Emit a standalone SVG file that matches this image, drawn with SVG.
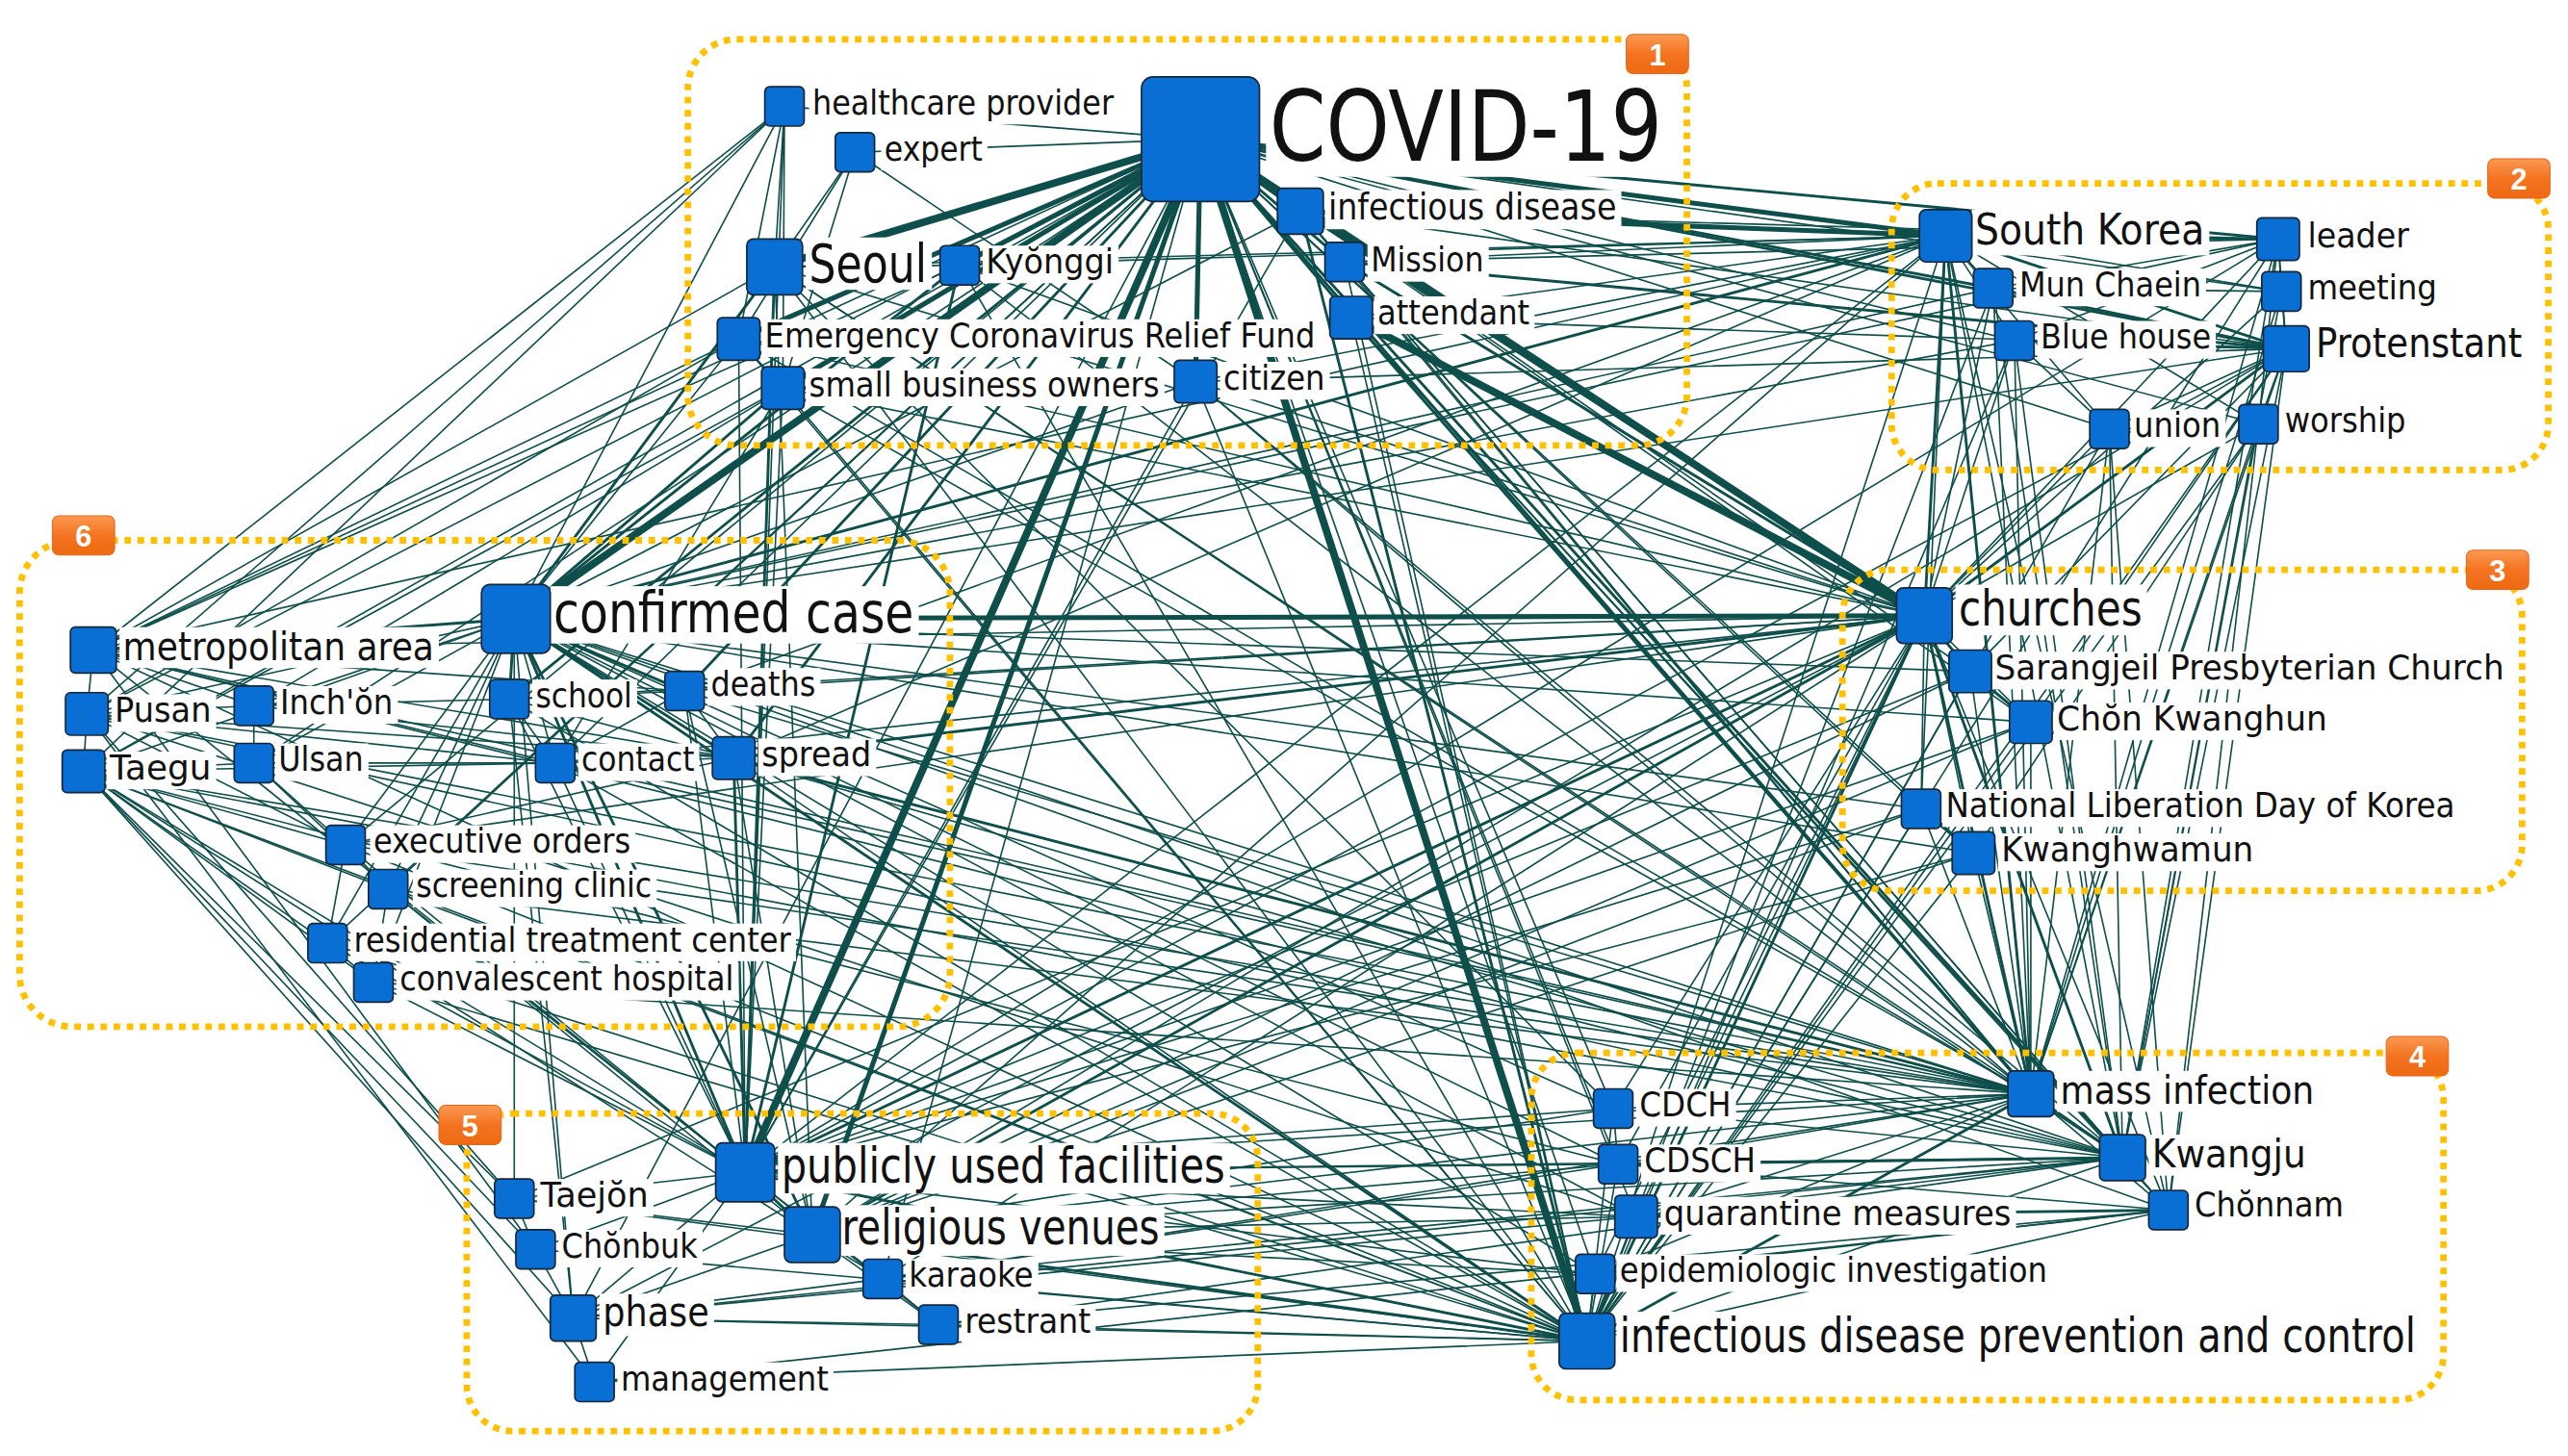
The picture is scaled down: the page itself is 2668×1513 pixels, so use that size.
<svg xmlns="http://www.w3.org/2000/svg" width="2668" height="1513" viewBox="0 0 2668 1513">
<style>
.e line{stroke:#0e4e4b;stroke-linecap:round}
.w1 line{stroke-width:0.95}
.w2 line{stroke-width:1.7}
.w3 line{stroke-width:3}
.w4 line{stroke-width:4.6}
.box{fill:#0a6fd4;stroke:#14283c;stroke-width:1}
.lbg{fill:#fff}
.t{font-family:"DejaVu Sans","Liberation Sans",sans-serif;fill:#111}
.fs{font-size:21px}
.fl{font-size:30px}
.grp{fill:none;stroke:#ffc000;stroke-width:4;stroke-dasharray:4 4}
.bd{fill:url(#og);stroke:#e8661a;stroke-width:0.6}
.bt{font-family:"Liberation Sans",sans-serif;font-weight:bold;font-size:18px;fill:#fff;text-anchor:middle}
</style>
<defs>
<linearGradient id="og" x1="0" y1="0" x2="0" y2="1"><stop offset="0" stop-color="#fb9a52"/><stop offset="0.5" stop-color="#f47321"/><stop offset="1" stop-color="#ee6a12"/></linearGradient>
</defs>
<rect width="2668" height="1513" fill="#fff"/>
<g transform="scale(1.70153)">
<g id="connectors" class="e">
<g class="w1">
<line x1="733" y1="85" x2="479" y2="65"/><line x1="733" y1="85" x2="522" y2="93"/><line x1="733" y1="85" x2="57" y2="397"/><line x1="733" y1="85" x2="53" y2="436"/><line x1="733" y1="85" x2="51" y2="471"/><line x1="733" y1="85" x2="339" y2="466"/><line x1="733" y1="85" x2="1393" y2="178"/><line x1="733" y1="85" x2="1230" y2="208"/><line x1="733" y1="85" x2="999" y2="743"/><line x1="733" y1="85" x2="985" y2="677"/><line x1="733" y1="85" x2="988" y2="711"/><line x1="733" y1="85" x2="974" y2="778"/><line x1="733" y1="85" x2="1203" y2="410"/><line x1="733" y1="85" x2="1240" y2="441"/><line x1="733" y1="85" x2="1173" y2="494"/><line x1="733" y1="85" x2="1205" y2="521"/><line x1="733" y1="85" x2="350" y2="805"/><line x1="733" y1="85" x2="539" y2="781"/><line x1="733" y1="85" x2="211" y2="516"/><line x1="733" y1="85" x2="237" y2="543"/><line x1="733" y1="85" x2="200" y2="576"/><line x1="733" y1="85" x2="155" y2="431"/><line x1="733" y1="85" x2="155" y2="466"/><line x1="733" y1="85" x2="1288" y2="262"/><line x1="733" y1="85" x2="1379" y2="259"/>
<line x1="794" y1="129" x2="455" y2="716"/><line x1="794" y1="129" x2="314" y2="378"/><line x1="794" y1="129" x2="1240" y2="668"/><line x1="794" y1="129" x2="1391" y2="146"/><line x1="794" y1="129" x2="1396" y2="213"/><line x1="794" y1="129" x2="1296" y2="707"/>
<line x1="821" y1="160" x2="1188" y2="144"/><line x1="821" y1="160" x2="1391" y2="146"/><line x1="821" y1="160" x2="969" y2="819"/><line x1="821" y1="160" x2="1240" y2="668"/><line x1="821" y1="160" x2="1296" y2="707"/>
<line x1="825" y1="194" x2="1396" y2="213"/><line x1="825" y1="194" x2="1188" y2="144"/><line x1="825" y1="194" x2="969" y2="819"/><line x1="825" y1="194" x2="1296" y2="707"/><line x1="825" y1="194" x2="1324" y2="739"/>
<line x1="473" y1="163" x2="479" y2="65"/><line x1="473" y1="163" x2="522" y2="93"/><line x1="473" y1="163" x2="57" y2="397"/><line x1="473" y1="163" x2="969" y2="819"/><line x1="473" y1="163" x2="1188" y2="144"/><line x1="473" y1="163" x2="1175" y2="376"/><line x1="473" y1="163" x2="586" y2="162"/><line x1="473" y1="163" x2="496" y2="754"/><line x1="473" y1="163" x2="1240" y2="668"/><line x1="473" y1="163" x2="1296" y2="707"/>
<line x1="479" y1="65" x2="451" y2="207"/><line x1="479" y1="65" x2="478" y2="237"/><line x1="479" y1="65" x2="57" y2="397"/><line x1="479" y1="65" x2="53" y2="436"/><line x1="479" y1="65" x2="51" y2="471"/><line x1="479" y1="65" x2="314" y2="378"/><line x1="479" y1="65" x2="455" y2="716"/>
<line x1="522" y1="93" x2="478" y2="237"/><line x1="522" y1="93" x2="451" y2="207"/><line x1="522" y1="93" x2="730" y2="233"/>
<line x1="586" y1="162" x2="969" y2="819"/><line x1="586" y1="162" x2="1175" y2="376"/><line x1="586" y1="162" x2="57" y2="397"/><line x1="586" y1="162" x2="1240" y2="668"/><line x1="586" y1="162" x2="1188" y2="144"/>
<line x1="451" y1="207" x2="314" y2="378"/><line x1="451" y1="207" x2="57" y2="397"/><line x1="451" y1="207" x2="53" y2="436"/><line x1="451" y1="207" x2="455" y2="716"/><line x1="451" y1="207" x2="478" y2="237"/><line x1="451" y1="207" x2="1175" y2="376"/><line x1="451" y1="207" x2="969" y2="819"/><line x1="451" y1="207" x2="1240" y2="668"/>
<line x1="478" y1="237" x2="455" y2="716"/><line x1="478" y1="237" x2="339" y2="466"/><line x1="478" y1="237" x2="969" y2="819"/><line x1="478" y1="237" x2="51" y2="471"/><line x1="478" y1="237" x2="1175" y2="376"/><line x1="478" y1="237" x2="1240" y2="668"/>
<line x1="730" y1="233" x2="1175" y2="376"/><line x1="730" y1="233" x2="455" y2="716"/><line x1="730" y1="233" x2="969" y2="819"/><line x1="730" y1="233" x2="314" y2="378"/><line x1="730" y1="233" x2="1240" y2="668"/><line x1="730" y1="233" x2="1296" y2="707"/><line x1="730" y1="233" x2="1188" y2="144"/><line x1="730" y1="233" x2="1396" y2="213"/>
<line x1="1188" y1="144" x2="1217" y2="176"/><line x1="1188" y1="144" x2="1393" y2="178"/><line x1="1188" y1="144" x2="1230" y2="208"/><line x1="1188" y1="144" x2="1296" y2="707"/><line x1="1188" y1="144" x2="969" y2="819"/><line x1="1188" y1="144" x2="455" y2="716"/><line x1="1188" y1="144" x2="1288" y2="262"/><line x1="1188" y1="144" x2="1379" y2="259"/><line x1="1188" y1="144" x2="1173" y2="494"/><line x1="1188" y1="144" x2="1324" y2="739"/><line x1="1188" y1="144" x2="448" y2="463"/><line x1="1188" y1="144" x2="418" y2="422"/><line x1="1188" y1="144" x2="496" y2="754"/><line x1="1188" y1="144" x2="57" y2="397"/>
<line x1="1217" y1="176" x2="1391" y2="146"/><line x1="1217" y1="176" x2="1393" y2="178"/><line x1="1217" y1="176" x2="1175" y2="376"/><line x1="1217" y1="176" x2="1240" y2="668"/><line x1="1217" y1="176" x2="969" y2="819"/><line x1="1217" y1="176" x2="314" y2="378"/><line x1="1217" y1="176" x2="1296" y2="707"/>
<line x1="1230" y1="208" x2="1391" y2="146"/><line x1="1230" y1="208" x2="1175" y2="376"/><line x1="1230" y1="208" x2="1240" y2="668"/><line x1="1230" y1="208" x2="1296" y2="707"/><line x1="1230" y1="208" x2="1288" y2="262"/><line x1="1230" y1="208" x2="314" y2="378"/><line x1="1230" y1="208" x2="969" y2="819"/>
<line x1="1391" y1="146" x2="1393" y2="178"/><line x1="1391" y1="146" x2="1396" y2="213"/><line x1="1391" y1="146" x2="1175" y2="376"/><line x1="1391" y1="146" x2="1296" y2="707"/><line x1="1391" y1="146" x2="1379" y2="259"/><line x1="1391" y1="146" x2="314" y2="378"/><line x1="1391" y1="146" x2="1240" y2="668"/><line x1="1391" y1="146" x2="455" y2="716"/><line x1="1391" y1="146" x2="969" y2="819"/>
<line x1="1393" y1="178" x2="1396" y2="213"/><line x1="1393" y1="178" x2="1175" y2="376"/><line x1="1393" y1="178" x2="1240" y2="668"/><line x1="1393" y1="178" x2="1296" y2="707"/>
<line x1="1396" y1="213" x2="1379" y2="259"/><line x1="1396" y1="213" x2="1240" y2="668"/><line x1="1396" y1="213" x2="1296" y2="707"/><line x1="1396" y1="213" x2="1324" y2="739"/><line x1="1396" y1="213" x2="1288" y2="262"/><line x1="1396" y1="213" x2="1203" y2="410"/><line x1="1396" y1="213" x2="1240" y2="441"/><line x1="1396" y1="213" x2="314" y2="378"/><line x1="1396" y1="213" x2="455" y2="716"/><line x1="1396" y1="213" x2="496" y2="754"/><line x1="1396" y1="213" x2="969" y2="819"/>
<line x1="1288" y1="262" x2="1175" y2="376"/><line x1="1288" y1="262" x2="1240" y2="668"/><line x1="1288" y1="262" x2="1296" y2="707"/><line x1="1288" y1="262" x2="969" y2="819"/><line x1="1288" y1="262" x2="1324" y2="739"/>
<line x1="1379" y1="259" x2="1175" y2="376"/><line x1="1379" y1="259" x2="1240" y2="668"/><line x1="1379" y1="259" x2="1296" y2="707"/><line x1="1379" y1="259" x2="1205" y2="521"/><line x1="1379" y1="259" x2="969" y2="819"/><line x1="1379" y1="259" x2="1324" y2="739"/>
<line x1="1175" y1="376" x2="1240" y2="441"/><line x1="1175" y1="376" x2="1173" y2="494"/><line x1="1175" y1="376" x2="1205" y2="521"/><line x1="1175" y1="376" x2="999" y2="743"/><line x1="1175" y1="376" x2="985" y2="677"/><line x1="1175" y1="376" x2="988" y2="711"/><line x1="1175" y1="376" x2="418" y2="422"/><line x1="1175" y1="376" x2="57" y2="397"/><line x1="1175" y1="376" x2="974" y2="778"/><line x1="1175" y1="376" x2="1324" y2="739"/><line x1="1175" y1="376" x2="539" y2="781"/><line x1="1175" y1="376" x2="339" y2="466"/><line x1="1175" y1="376" x2="311" y2="427"/><line x1="1175" y1="376" x2="314" y2="732"/><line x1="1175" y1="376" x2="350" y2="805"/>
<line x1="1203" y1="410" x2="314" y2="378"/><line x1="1203" y1="410" x2="1240" y2="668"/><line x1="1203" y1="410" x2="969" y2="819"/><line x1="1203" y1="410" x2="455" y2="716"/><line x1="1203" y1="410" x2="496" y2="754"/>
<line x1="1240" y1="441" x2="1240" y2="668"/><line x1="1240" y1="441" x2="969" y2="819"/><line x1="1240" y1="441" x2="496" y2="754"/><line x1="1240" y1="441" x2="314" y2="378"/><line x1="1240" y1="441" x2="455" y2="716"/>
<line x1="1173" y1="494" x2="1240" y2="668"/><line x1="1173" y1="494" x2="969" y2="819"/><line x1="1173" y1="494" x2="314" y2="378"/><line x1="1173" y1="494" x2="455" y2="716"/><line x1="1173" y1="494" x2="496" y2="754"/>
<line x1="1205" y1="521" x2="1240" y2="668"/><line x1="1205" y1="521" x2="969" y2="819"/><line x1="1205" y1="521" x2="455" y2="716"/><line x1="1205" y1="521" x2="496" y2="754"/><line x1="1205" y1="521" x2="314" y2="378"/>
<line x1="1240" y1="668" x2="1324" y2="739"/><line x1="1240" y1="668" x2="985" y2="677"/><line x1="1240" y1="668" x2="988" y2="711"/><line x1="1240" y1="668" x2="999" y2="743"/><line x1="1240" y1="668" x2="314" y2="378"/><line x1="1240" y1="668" x2="51" y2="471"/><line x1="1240" y1="668" x2="53" y2="436"/><line x1="1240" y1="668" x2="455" y2="716"/><line x1="1240" y1="668" x2="496" y2="754"/><line x1="1240" y1="668" x2="974" y2="778"/><line x1="1240" y1="668" x2="339" y2="466"/><line x1="1240" y1="668" x2="418" y2="422"/><line x1="1240" y1="668" x2="57" y2="397"/><line x1="1240" y1="668" x2="211" y2="516"/><line x1="1240" y1="668" x2="237" y2="543"/><line x1="1240" y1="668" x2="228" y2="600"/><line x1="1240" y1="668" x2="539" y2="781"/>
<line x1="1296" y1="707" x2="1324" y2="739"/><line x1="1296" y1="707" x2="985" y2="677"/><line x1="1296" y1="707" x2="999" y2="743"/><line x1="1296" y1="707" x2="969" y2="819"/><line x1="1296" y1="707" x2="455" y2="716"/><line x1="1296" y1="707" x2="496" y2="754"/><line x1="1296" y1="707" x2="314" y2="378"/><line x1="1296" y1="707" x2="51" y2="471"/><line x1="1296" y1="707" x2="448" y2="463"/><line x1="1296" y1="707" x2="53" y2="436"/><line x1="1296" y1="707" x2="57" y2="397"/><line x1="1296" y1="707" x2="539" y2="781"/><line x1="1296" y1="707" x2="573" y2="809"/><line x1="1296" y1="707" x2="350" y2="805"/>
<line x1="1324" y1="739" x2="974" y2="778"/><line x1="1324" y1="739" x2="969" y2="819"/><line x1="1324" y1="739" x2="988" y2="711"/><line x1="1324" y1="739" x2="314" y2="378"/><line x1="1324" y1="739" x2="573" y2="809"/><line x1="1324" y1="739" x2="363" y2="844"/>
<line x1="985" y1="677" x2="988" y2="711"/><line x1="985" y1="677" x2="969" y2="819"/><line x1="985" y1="677" x2="314" y2="378"/><line x1="985" y1="677" x2="455" y2="716"/><line x1="985" y1="677" x2="473" y2="163"/><line x1="985" y1="677" x2="496" y2="754"/>
<line x1="988" y1="711" x2="969" y2="819"/><line x1="988" y1="711" x2="455" y2="716"/><line x1="988" y1="711" x2="496" y2="754"/><line x1="988" y1="711" x2="314" y2="378"/><line x1="988" y1="711" x2="51" y2="471"/><line x1="988" y1="711" x2="539" y2="781"/>
<line x1="999" y1="743" x2="969" y2="819"/><line x1="999" y1="743" x2="455" y2="716"/><line x1="999" y1="743" x2="496" y2="754"/><line x1="999" y1="743" x2="314" y2="378"/><line x1="999" y1="743" x2="53" y2="436"/><line x1="999" y1="743" x2="350" y2="805"/>
<line x1="974" y1="778" x2="969" y2="819"/><line x1="974" y1="778" x2="314" y2="378"/><line x1="974" y1="778" x2="455" y2="716"/><line x1="974" y1="778" x2="496" y2="754"/>
<line x1="969" y1="819" x2="350" y2="805"/><line x1="969" y1="819" x2="363" y2="844"/><line x1="969" y1="819" x2="539" y2="781"/><line x1="969" y1="819" x2="573" y2="809"/><line x1="969" y1="819" x2="51" y2="471"/><line x1="969" y1="819" x2="448" y2="463"/><line x1="969" y1="819" x2="57" y2="397"/><line x1="969" y1="819" x2="339" y2="466"/><line x1="969" y1="819" x2="311" y2="427"/><line x1="969" y1="819" x2="314" y2="732"/><line x1="969" y1="819" x2="327" y2="763"/><line x1="969" y1="819" x2="200" y2="576"/>
<line x1="455" y1="716" x2="314" y2="732"/><line x1="455" y1="716" x2="327" y2="763"/><line x1="455" y1="716" x2="350" y2="805"/><line x1="455" y1="716" x2="539" y2="781"/><line x1="455" y1="716" x2="418" y2="422"/><line x1="455" y1="716" x2="339" y2="466"/><line x1="455" y1="716" x2="311" y2="427"/><line x1="455" y1="716" x2="51" y2="471"/><line x1="455" y1="716" x2="57" y2="397"/><line x1="455" y1="716" x2="211" y2="516"/><line x1="455" y1="716" x2="237" y2="543"/><line x1="455" y1="716" x2="573" y2="809"/>
<line x1="496" y1="754" x2="539" y2="781"/><line x1="496" y1="754" x2="573" y2="809"/><line x1="496" y1="754" x2="350" y2="805"/><line x1="496" y1="754" x2="448" y2="463"/><line x1="496" y1="754" x2="314" y2="732"/><line x1="496" y1="754" x2="418" y2="422"/><line x1="496" y1="754" x2="51" y2="471"/>
<line x1="314" y1="732" x2="327" y2="763"/><line x1="314" y1="732" x2="51" y2="471"/><line x1="314" y1="732" x2="53" y2="436"/><line x1="314" y1="732" x2="314" y2="378"/>
<line x1="327" y1="763" x2="350" y2="805"/><line x1="327" y1="763" x2="51" y2="471"/><line x1="327" y1="763" x2="57" y2="397"/>
<line x1="350" y1="805" x2="363" y2="844"/><line x1="350" y1="805" x2="539" y2="781"/><line x1="350" y1="805" x2="573" y2="809"/><line x1="350" y1="805" x2="314" y2="378"/><line x1="350" y1="805" x2="311" y2="427"/>
<line x1="539" y1="781" x2="573" y2="809"/><line x1="363" y1="844" x2="455" y2="716"/>
<line x1="314" y1="378" x2="339" y2="466"/><line x1="314" y1="378" x2="53" y2="436"/><line x1="314" y1="378" x2="51" y2="471"/><line x1="314" y1="378" x2="155" y2="431"/><line x1="314" y1="378" x2="155" y2="466"/><line x1="314" y1="378" x2="211" y2="516"/><line x1="314" y1="378" x2="237" y2="543"/><line x1="314" y1="378" x2="200" y2="576"/><line x1="314" y1="378" x2="228" y2="600"/>
<line x1="57" y1="397" x2="53" y2="436"/><line x1="57" y1="397" x2="155" y2="431"/><line x1="57" y1="397" x2="448" y2="463"/><line x1="57" y1="397" x2="418" y2="422"/><line x1="57" y1="397" x2="339" y2="466"/>
<line x1="53" y1="436" x2="51" y2="471"/><line x1="53" y1="436" x2="155" y2="431"/><line x1="53" y1="436" x2="339" y2="466"/><line x1="53" y1="436" x2="211" y2="516"/><line x1="53" y1="436" x2="448" y2="463"/>
<line x1="51" y1="471" x2="155" y2="466"/><line x1="51" y1="471" x2="211" y2="516"/><line x1="51" y1="471" x2="237" y2="543"/><line x1="51" y1="471" x2="200" y2="576"/><line x1="51" y1="471" x2="228" y2="600"/><line x1="51" y1="471" x2="350" y2="805"/><line x1="51" y1="471" x2="339" y2="466"/>
<line x1="155" y1="431" x2="155" y2="466"/><line x1="155" y1="431" x2="448" y2="463"/><line x1="155" y1="431" x2="311" y2="427"/><line x1="155" y1="466" x2="211" y2="516"/><line x1="155" y1="466" x2="237" y2="543"/><line x1="155" y1="466" x2="339" y2="466"/>
<line x1="311" y1="427" x2="339" y2="466"/><line x1="311" y1="427" x2="448" y2="463"/><line x1="311" y1="427" x2="418" y2="422"/><line x1="418" y1="422" x2="448" y2="463"/><line x1="448" y1="463" x2="339" y2="466"/><line x1="448" y1="463" x2="211" y2="516"/><line x1="418" y1="422" x2="339" y2="466"/>
<line x1="211" y1="516" x2="237" y2="543"/><line x1="211" y1="516" x2="200" y2="576"/><line x1="200" y1="576" x2="228" y2="600"/><line x1="237" y1="543" x2="228" y2="600"/>
<line x1="200" y1="576" x2="455" y2="716"/><line x1="228" y1="600" x2="455" y2="716"/><line x1="228" y1="600" x2="969" y2="819"/><line x1="237" y1="543" x2="496" y2="754"/><line x1="211" y1="516" x2="969" y2="819"/><line x1="53" y1="436" x2="363" y2="844"/><line x1="237" y1="543" x2="969" y2="819"/><line x1="211" y1="516" x2="1175" y2="376"/>
</g>
<g class="w2">
<line x1="733" y1="85" x2="1240" y2="668"/><line x1="733" y1="85" x2="821" y2="160"/><line x1="733" y1="85" x2="825" y2="194"/><line x1="733" y1="85" x2="311" y2="427"/><line x1="733" y1="85" x2="418" y2="422"/><line x1="733" y1="85" x2="448" y2="463"/><line x1="733" y1="85" x2="1391" y2="146"/><line x1="733" y1="85" x2="1396" y2="213"/><line x1="733" y1="85" x2="1217" y2="176"/><line x1="733" y1="85" x2="1296" y2="707"/>
<line x1="794" y1="129" x2="1175" y2="376"/><line x1="794" y1="129" x2="969" y2="819"/><line x1="821" y1="160" x2="1175" y2="376"/><line x1="821" y1="160" x2="1396" y2="213"/><line x1="825" y1="194" x2="1240" y2="668"/>
<line x1="473" y1="163" x2="314" y2="378"/><line x1="473" y1="163" x2="455" y2="716"/><line x1="586" y1="162" x2="314" y2="378"/><line x1="586" y1="162" x2="455" y2="716"/><line x1="478" y1="237" x2="314" y2="378"/>
<line x1="1188" y1="144" x2="1391" y2="146"/><line x1="1188" y1="144" x2="1396" y2="213"/><line x1="1188" y1="144" x2="1175" y2="376"/><line x1="1188" y1="144" x2="1240" y2="668"/><line x1="1188" y1="144" x2="314" y2="378"/><line x1="1217" y1="176" x2="1396" y2="213"/><line x1="1230" y1="208" x2="1396" y2="213"/><line x1="1396" y1="213" x2="1175" y2="376"/>
<line x1="1175" y1="376" x2="455" y2="716"/><line x1="1175" y1="376" x2="496" y2="754"/><line x1="1175" y1="376" x2="969" y2="819"/><line x1="1175" y1="376" x2="1240" y2="668"/><line x1="1175" y1="376" x2="1296" y2="707"/><line x1="1175" y1="376" x2="1203" y2="410"/><line x1="1175" y1="376" x2="448" y2="463"/><line x1="1203" y1="410" x2="1240" y2="441"/><line x1="1173" y1="494" x2="1205" y2="521"/>
<line x1="1240" y1="668" x2="1296" y2="707"/><line x1="1240" y1="668" x2="969" y2="819"/><line x1="1240" y1="668" x2="448" y2="463"/><line x1="1296" y1="707" x2="988" y2="711"/><line x1="1324" y1="739" x2="999" y2="743"/>
<line x1="969" y1="819" x2="455" y2="716"/><line x1="969" y1="819" x2="496" y2="754"/><line x1="969" y1="819" x2="314" y2="378"/>
<line x1="455" y1="716" x2="496" y2="754"/><line x1="455" y1="716" x2="314" y2="378"/><line x1="455" y1="716" x2="448" y2="463"/><line x1="496" y1="754" x2="314" y2="378"/>
<line x1="314" y1="378" x2="57" y2="397"/><line x1="314" y1="378" x2="311" y2="427"/><line x1="314" y1="378" x2="418" y2="422"/><line x1="314" y1="378" x2="448" y2="463"/>
</g>
<g class="w3">
<line x1="733" y1="85" x2="586" y2="162"/><line x1="733" y1="85" x2="451" y2="207"/><line x1="733" y1="85" x2="478" y2="237"/><line x1="733" y1="85" x2="496" y2="754"/><line x1="733" y1="85" x2="1188" y2="144"/><line x1="733" y1="85" x2="730" y2="233"/><line x1="733" y1="85" x2="794" y2="129"/><line x1="794" y1="129" x2="1188" y2="144"/><line x1="1175" y1="376" x2="314" y2="378"/>
</g>
<g class="w4">
<line x1="733" y1="85" x2="473" y2="163"/><line x1="733" y1="85" x2="314" y2="378"/><line x1="733" y1="85" x2="455" y2="716"/><line x1="733" y1="85" x2="1175" y2="376"/><line x1="733" y1="85" x2="969" y2="819"/><line x1="825" y1="194" x2="1175" y2="376"/>
</g>
</g>
<g id="groups">
<rect class="grp" x="420" y="24" width="610" height="248" rx="30"/>
<rect class="grp" x="1155" y="112" width="401" height="175" rx="28"/>
<rect class="grp" x="1125" y="348" width="415" height="196" rx="28"/>
<rect class="grp" x="935" y="643" width="557" height="212" rx="28"/>
<rect class="grp" x="285" y="680" width="483" height="194" rx="28"/>
<rect class="grp" x="12" y="330" width="568" height="297" rx="32"/>
</g>
<g id="nodes">
<g id="n-covid19"><rect class="lbg" x="773" y="50" width="246" height="58"/><rect class="box" x="697" y="47" width="72" height="76" rx="7"/><text class="t" x="775" y="98" font-size="60" textLength="240" lengthAdjust="spacingAndGlyphs">COVID-19</text></g>
<g id="n-healthcare-provider"><rect class="lbg" x="494" y="53" width="189" height="23"/><rect class="box" x="467" y="53" width="24" height="24" rx="3"/><text class="t fs" x="496" y="70" textLength="184" lengthAdjust="spacingAndGlyphs">healthcare provider</text></g>
<g id="n-expert"><rect class="lbg" x="538" y="81" width="65" height="23"/><rect class="box" x="510" y="81" width="24" height="24" rx="3"/><text class="t fs" x="540" y="98" textLength="60" lengthAdjust="spacingAndGlyphs">expert</text></g>
<g id="n-seoul"><rect class="lbg" x="492" y="145" width="77" height="32"/><rect class="box" x="456" y="146" width="34" height="34" rx="4"/><text class="t" x="494" y="172" font-size="32" textLength="72" lengthAdjust="spacingAndGlyphs">Seoul</text></g>
<g id="n-kyonggi"><rect class="lbg" x="600" y="150" width="83" height="23"/><rect class="box" x="574" y="150" width="24" height="24" rx="3"/><text class="t fs" x="602" y="167" textLength="78" lengthAdjust="spacingAndGlyphs">Kyŏnggi</text></g>
<g id="n-infectious-disease"><rect class="lbg" x="809" y="116" width="181" height="24"/><rect class="box" x="780" y="115" width="28" height="28" rx="3"/><text class="t" x="811" y="134" font-size="22" textLength="176" lengthAdjust="spacingAndGlyphs">infectious disease</text></g>
<g id="n-mission"><rect class="lbg" x="835" y="149" width="74" height="23"/><rect class="box" x="809" y="148" width="24" height="24" rx="3"/><text class="t fs" x="837" y="166" textLength="69" lengthAdjust="spacingAndGlyphs">Mission</text></g>
<g id="n-attendant"><rect class="lbg" x="839" y="181" width="98" height="23"/><rect class="box" x="812" y="181" width="26" height="26" rx="3"/><text class="t fs" x="841" y="198" textLength="93" lengthAdjust="spacingAndGlyphs">attendant</text></g>
<g id="n-emergency-coronavirus-relief-fund"><rect class="lbg" x="465" y="195" width="341" height="23"/><rect class="box" x="438" y="194" width="26" height="26" rx="3"/><text class="t fs" x="467" y="212" textLength="336" lengthAdjust="spacingAndGlyphs">Emergency Coronavirus Relief Fund</text></g>
<g id="n-small-business-owners"><rect class="lbg" x="492" y="225" width="219" height="23"/><rect class="box" x="465" y="224" width="26" height="26" rx="3"/><text class="t fs" x="494" y="242" textLength="214" lengthAdjust="spacingAndGlyphs">small business owners</text></g>
<g id="n-citizen"><rect class="lbg" x="745" y="221" width="67" height="23"/><rect class="box" x="717" y="220" width="26" height="26" rx="3"/><text class="t fs" x="747" y="238" textLength="62" lengthAdjust="spacingAndGlyphs">citizen</text></g>
<g id="n-south-korea"><rect class="lbg" x="1204" y="128" width="145" height="28"/><rect class="box" x="1172" y="128" width="32" height="32" rx="4"/><text class="t" x="1206" y="149" font-size="26" textLength="140" lengthAdjust="spacingAndGlyphs">South Korea</text></g>
<g id="n-leader"><rect class="lbg" x="1407" y="134" width="67" height="23"/><rect class="box" x="1378" y="133" width="26" height="26" rx="3"/><text class="t fs" x="1409" y="151" textLength="62" lengthAdjust="spacingAndGlyphs">leader</text></g>
<g id="n-mun-chaein"><rect class="lbg" x="1231" y="164" width="116" height="23"/><rect class="box" x="1205" y="164" width="24" height="24" rx="3"/><text class="t fs" x="1233" y="181" textLength="111" lengthAdjust="spacingAndGlyphs">Mun Chaein</text></g>
<g id="n-meeting"><rect class="lbg" x="1407" y="166" width="84" height="23"/><rect class="box" x="1381" y="166" width="24" height="24" rx="3"/><text class="t fs" x="1409" y="183" textLength="79" lengthAdjust="spacingAndGlyphs">meeting</text></g>
<g id="n-blue-house"><rect class="lbg" x="1244" y="196" width="109" height="23"/><rect class="box" x="1218" y="196" width="24" height="24" rx="3"/><text class="t fs" x="1246" y="213" textLength="104" lengthAdjust="spacingAndGlyphs">Blue house</text></g>
<g id="n-protenstant"><rect class="lbg" x="1412" y="198" width="131" height="26"/><rect class="box" x="1382" y="199" width="28" height="28" rx="3"/><text class="t" x="1414" y="218" font-size="25" textLength="126" lengthAdjust="spacingAndGlyphs">Protenstant</text></g>
<g id="n-union"><rect class="lbg" x="1301" y="250" width="58" height="23"/><rect class="box" x="1276" y="250" width="24" height="24" rx="3"/><text class="t fs" x="1303" y="267" textLength="53" lengthAdjust="spacingAndGlyphs">union</text></g>
<g id="n-worship"><rect class="lbg" x="1393" y="247" width="79" height="23"/><rect class="box" x="1367" y="247" width="24" height="24" rx="3"/><text class="t fs" x="1395" y="264" textLength="74" lengthAdjust="spacingAndGlyphs">worship</text></g>
<g id="n-churches"><rect class="lbg" x="1194" y="357" width="117" height="31"/><rect class="box" x="1158" y="359" width="34" height="34" rx="4"/><text class="t" x="1196" y="382" font-size="30" textLength="112" lengthAdjust="spacingAndGlyphs">churches</text></g>
<g id="n-sarangjeil-presbyterian-church"><rect class="lbg" x="1216" y="398" width="316" height="23"/><rect class="box" x="1190" y="397" width="26" height="26" rx="3"/><text class="t fs" x="1218" y="415" textLength="311" lengthAdjust="spacingAndGlyphs">Sarangjeil Presbyterian Church</text></g>
<g id="n-chon-kwanghun"><rect class="lbg" x="1254" y="429" width="170" height="23"/><rect class="box" x="1227" y="428" width="26" height="26" rx="3"/><text class="t fs" x="1256" y="446" textLength="165" lengthAdjust="spacingAndGlyphs">Chŏn Kwanghun</text></g>
<g id="n-national-liberation-day-of-korea"><rect class="lbg" x="1186" y="482" width="316" height="23"/><rect class="box" x="1161" y="482" width="24" height="24" rx="3"/><text class="t fs" x="1188" y="499" textLength="311" lengthAdjust="spacingAndGlyphs">National Liberation Day of Korea</text></g>
<g id="n-kwanghwamun"><rect class="lbg" x="1220" y="509" width="159" height="23"/><rect class="box" x="1192" y="508" width="26" height="26" rx="3"/><text class="t fs" x="1222" y="526" textLength="154" lengthAdjust="spacingAndGlyphs">Kwanghwamun</text></g>
<g id="n-mass-infection"><rect class="lbg" x="1256" y="654" width="160" height="25"/><rect class="box" x="1226" y="654" width="28" height="28" rx="3"/><text class="t" x="1258" y="674" font-size="24" textLength="155" lengthAdjust="spacingAndGlyphs">mass infection</text></g>
<g id="n-cdch"><rect class="lbg" x="999" y="665" width="61" height="23"/><rect class="box" x="973" y="665" width="24" height="24" rx="3"/><text class="t fs" x="1001" y="682" textLength="56" lengthAdjust="spacingAndGlyphs">CDCH</text></g>
<g id="n-kwangju"><rect class="lbg" x="1312" y="693" width="99" height="25"/><rect class="box" x="1282" y="693" width="28" height="28" rx="3"/><text class="t" x="1314" y="713" font-size="24" textLength="94" lengthAdjust="spacingAndGlyphs">Kwangju</text></g>
<g id="n-cdsch"><rect class="lbg" x="1002" y="699" width="73" height="23"/><rect class="box" x="976" y="699" width="24" height="24" rx="3"/><text class="t fs" x="1004" y="716" textLength="68" lengthAdjust="spacingAndGlyphs">CDSCH</text></g>
<g id="n-quarantine-measures"><rect class="lbg" x="1014" y="731" width="217" height="23"/><rect class="box" x="986" y="730" width="26" height="26" rx="3"/><text class="t fs" x="1016" y="748" textLength="212" lengthAdjust="spacingAndGlyphs">quarantine measures</text></g>
<g id="n-chonnam"><rect class="lbg" x="1338" y="726" width="96" height="23"/><rect class="box" x="1312" y="727" width="24" height="24" rx="3"/><text class="t fs" x="1340" y="743" textLength="91" lengthAdjust="spacingAndGlyphs">Chŏnnam</text></g>
<g id="n-epidemiologic-investigation"><rect class="lbg" x="987" y="766" width="266" height="23"/><rect class="box" x="962" y="766" width="24" height="24" rx="3"/><text class="t fs" x="989" y="783" textLength="261" lengthAdjust="spacingAndGlyphs">epidemiologic investigation</text></g>
<g id="n-infectious-disease-prevention-and-control"><rect class="lbg" x="987" y="801" width="492" height="31"/><rect class="box" x="952" y="802" width="34" height="34" rx="4"/><text class="t" x="989" y="826" font-size="29" textLength="486" lengthAdjust="spacingAndGlyphs">infectious disease prevention and control</text></g>
<g id="n-publicly-used-facilities"><rect class="lbg" x="475" y="698" width="276" height="31"/><rect class="box" x="437" y="698" width="36" height="36" rx="4"/><text class="t fl" x="477" y="722" textLength="271" lengthAdjust="spacingAndGlyphs">publicly used facilities</text></g>
<g id="n-religious-venues"><rect class="lbg" x="512" y="736" width="199" height="31"/><rect class="box" x="479" y="737" width="34" height="34" rx="4"/><text class="t fl" x="514" y="760" textLength="194" lengthAdjust="spacingAndGlyphs">religious venues</text></g>
<g id="n-taejon"><rect class="lbg" x="328" y="720" width="71" height="23"/><rect class="box" x="302" y="720" width="24" height="24" rx="3"/><text class="t fs" x="330" y="737" textLength="66" lengthAdjust="spacingAndGlyphs">Taejŏn</text></g>
<g id="n-chonbuk"><rect class="lbg" x="341" y="751" width="88" height="23"/><rect class="box" x="315" y="751" width="24" height="24" rx="3"/><text class="t fs" x="343" y="768" textLength="83" lengthAdjust="spacingAndGlyphs">Chŏnbuk</text></g>
<g id="n-karaoke"><rect class="lbg" x="553" y="769" width="81" height="23"/><rect class="box" x="527" y="769" width="24" height="24" rx="3"/><text class="t fs" x="555" y="786" textLength="76" lengthAdjust="spacingAndGlyphs">karaoke</text></g>
<g id="n-phase"><rect class="lbg" x="366" y="790" width="70" height="26"/><rect class="box" x="336" y="791" width="28" height="28" rx="3"/><text class="t" x="368" y="810" font-size="25" textLength="65" lengthAdjust="spacingAndGlyphs">phase</text></g>
<g id="n-restrant"><rect class="lbg" x="587" y="797" width="82" height="23"/><rect class="box" x="561" y="797" width="24" height="24" rx="3"/><text class="t fs" x="589" y="814" textLength="77" lengthAdjust="spacingAndGlyphs">restrant</text></g>
<g id="n-management"><rect class="lbg" x="377" y="832" width="132" height="23"/><rect class="box" x="351" y="832" width="24" height="24" rx="3"/><text class="t fs" x="379" y="849" textLength="127" lengthAdjust="spacingAndGlyphs">management</text></g>
<g id="n-confirmed-case"><rect class="lbg" x="336" y="358" width="225" height="35"/><rect class="box" x="294" y="357" width="42" height="42" rx="5"/><text class="t" x="338" y="386" font-size="34" textLength="220" lengthAdjust="spacingAndGlyphs">confirmed case</text></g>
<g id="n-metropolitan-area"><rect class="lbg" x="73" y="383" width="195" height="25"/><rect class="box" x="43" y="383" width="28" height="28" rx="3"/><text class="t" x="75" y="403" font-size="24" textLength="190" lengthAdjust="spacingAndGlyphs">metropolitan area</text></g>
<g id="n-school"><rect class="lbg" x="325" y="415" width="64" height="23"/><rect class="box" x="299" y="415" width="24" height="24" rx="3"/><text class="t fs" x="327" y="432" textLength="59" lengthAdjust="spacingAndGlyphs">school</text></g>
<g id="n-deaths"><rect class="lbg" x="432" y="408" width="69" height="23"/><rect class="box" x="406" y="410" width="24" height="24" rx="3"/><text class="t fs" x="434" y="425" textLength="64" lengthAdjust="spacingAndGlyphs">deaths</text></g>
<g id="n-pusan"><rect class="lbg" x="68" y="424" width="64" height="23"/><rect class="box" x="40" y="423" width="26" height="26" rx="3"/><text class="t fs" x="70" y="441" textLength="59" lengthAdjust="spacingAndGlyphs">Pusan</text></g>
<g id="n-inchon"><rect class="lbg" x="169" y="419" width="74" height="23"/><rect class="box" x="143" y="419" width="24" height="24" rx="3"/><text class="t fs" x="171" y="436" textLength="69" lengthAdjust="spacingAndGlyphs">Inch'ŏn</text></g>
<g id="n-taegu"><rect class="lbg" x="65" y="459" width="67" height="23"/><rect class="box" x="38" y="458" width="26" height="26" rx="3"/><text class="t fs" x="67" y="476" textLength="62" lengthAdjust="spacingAndGlyphs">Taegu</text></g>
<g id="n-ulsan"><rect class="lbg" x="168" y="454" width="57" height="23"/><rect class="box" x="143" y="454" width="24" height="24" rx="3"/><text class="t fs" x="170" y="471" textLength="52" lengthAdjust="spacingAndGlyphs">Ulsan</text></g>
<g id="n-contact"><rect class="lbg" x="353" y="454" width="74" height="23"/><rect class="box" x="327" y="454" width="24" height="24" rx="3"/><text class="t fs" x="355" y="471" textLength="69" lengthAdjust="spacingAndGlyphs">contact</text></g>
<g id="n-spread"><rect class="lbg" x="463" y="451" width="72" height="23"/><rect class="box" x="435" y="450" width="26" height="26" rx="3"/><text class="t fs" x="465" y="468" textLength="67" lengthAdjust="spacingAndGlyphs">spread</text></g>
<g id="n-executive-orders"><rect class="lbg" x="226" y="504" width="162" height="23"/><rect class="box" x="199" y="504" width="24" height="24" rx="3"/><text class="t fs" x="228" y="521" textLength="157" lengthAdjust="spacingAndGlyphs">executive orders</text></g>
<g id="n-screening-clinic"><rect class="lbg" x="252" y="531" width="149" height="23"/><rect class="box" x="225" y="531" width="24" height="24" rx="3"/><text class="t fs" x="254" y="548" textLength="144" lengthAdjust="spacingAndGlyphs">screening clinic</text></g>
<g id="n-residential-treatment-center"><rect class="lbg" x="214" y="564" width="272" height="23"/><rect class="box" x="188" y="564" width="24" height="24" rx="3"/><text class="t fs" x="216" y="581" textLength="267" lengthAdjust="spacingAndGlyphs">residential treatment center</text></g>
<g id="n-convalescent-hospital"><rect class="lbg" x="242" y="588" width="209" height="23"/><rect class="box" x="216" y="588" width="24" height="24" rx="3"/><text class="t fs" x="244" y="605" textLength="204" lengthAdjust="spacingAndGlyphs">convalescent hospital</text></g>
</g>
<g id="badges">
<g id="badge-1"><rect class="bd" x="993" y="21" width="38" height="24" rx="4"/><text class="bt" x="1012" y="40">1</text></g>
<g id="badge-2"><rect class="bd" x="1519" y="97" width="38" height="24" rx="4"/><text class="bt" x="1538" y="116">2</text></g>
<g id="badge-3"><rect class="bd" x="1506" y="336" width="38" height="24" rx="4"/><text class="bt" x="1525" y="355">3</text></g>
<g id="badge-4"><rect class="bd" x="1457" y="633" width="38" height="24" rx="4"/><text class="bt" x="1476" y="652">4</text></g>
<g id="badge-5"><rect class="bd" x="268" y="675" width="38" height="24" rx="4"/><text class="bt" x="287" y="694">5</text></g>
<g id="badge-6"><rect class="bd" x="32" y="315" width="38" height="24" rx="4"/><text class="bt" x="51" y="334">6</text></g>
</g>
</g>
</svg>
